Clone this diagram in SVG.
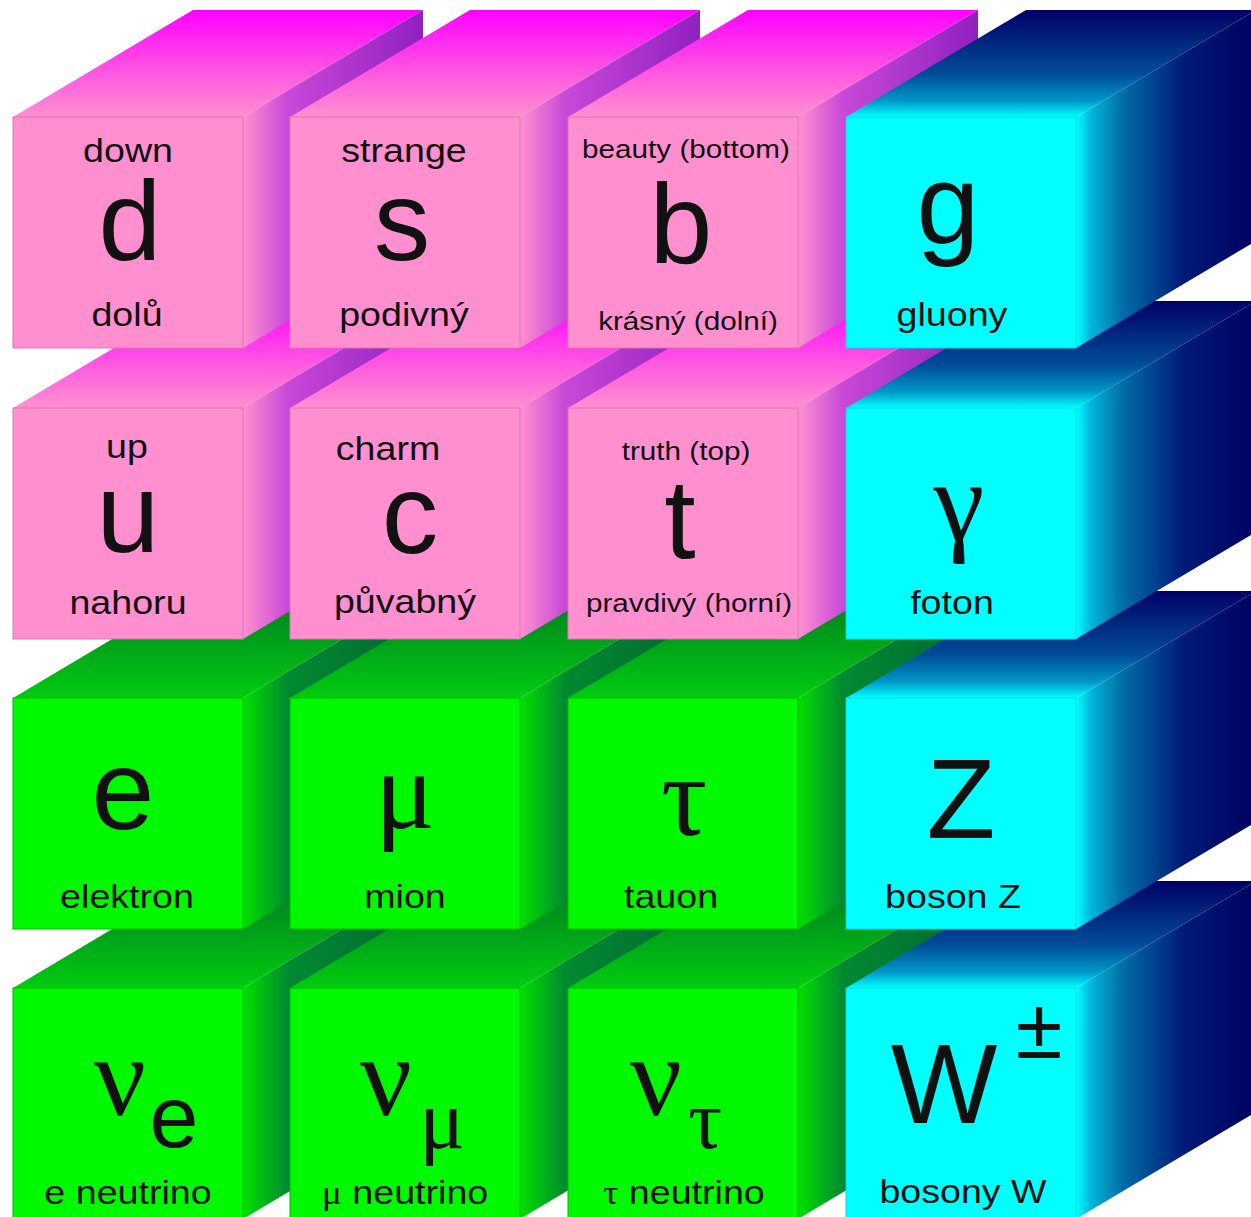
<svg xmlns="http://www.w3.org/2000/svg" xmlns:xlink="http://www.w3.org/1999/xlink" width="1251" height="1217" viewBox="0 0 1251 1217">
<style>
text{fill:#111;text-anchor:middle}
.lbl{font-family:"Liberation Sans",Arial,sans-serif;font-size:33px}
.sml{font-family:"Liberation Sans",Arial,sans-serif;font-size:26.5px}
.big{font-family:"Liberation Sans",Arial,sans-serif;font-size:113px}
.grk{font-family:"Liberation Serif","DejaVu Serif",serif;font-size:115px}
.sub{font-family:"Liberation Serif","DejaVu Serif",serif;font-size:85px}
.subs{font-family:"Liberation Sans",Arial,sans-serif;font-size:88px}
.gs{font-family:"Liberation Serif","DejaVu Serif",serif}
</style>
<defs>
<linearGradient id="pTop" x1="0" y1="0" x2="0" y2="1"><stop offset="0" stop-color="#ff00ff"/><stop offset="0.6" stop-color="#ff5ae0"/><stop offset="1" stop-color="#ff90d0"/></linearGradient>
<linearGradient id="pSide" x1="0" y1="0" x2="1" y2="0"><stop offset="0" stop-color="#ff90d0"/><stop offset="0.25" stop-color="#c848d8"/><stop offset="1" stop-color="#9020c0"/></linearGradient>
<linearGradient id="gTop" x1="0" y1="0" x2="0" y2="1"><stop offset="0" stop-color="#007a22"/><stop offset="1" stop-color="#00cc10"/></linearGradient>
<linearGradient id="gSide" x1="0" y1="0" x2="1" y2="0"><stop offset="0" stop-color="#00e000"/><stop offset="0.25" stop-color="#008a30"/><stop offset="1" stop-color="#006633"/></linearGradient>
<linearGradient id="cTop" x1="0" y1="0" x2="0" y2="1"><stop offset="0" stop-color="#000066"/><stop offset="0.6" stop-color="#004d99"/><stop offset="0.85" stop-color="#0098c8"/><stop offset="1" stop-color="#00ffff"/></linearGradient>
<linearGradient id="cSide" x1="0" y1="0" x2="1" y2="0"><stop offset="0" stop-color="#00ffff"/><stop offset="0.08" stop-color="#00b8dc"/><stop offset="0.25" stop-color="#0070a8"/><stop offset="0.6" stop-color="#001a78"/><stop offset="1" stop-color="#000060"/></linearGradient>
<g id="pink">
<polygon points="0,0 180,-107 410,-107 230,0" fill="url(#pTop)"/>
<polygon points="230,0 410,-107 410,124 230,231" fill="url(#pSide)"/>
<rect x="0" y="0" width="230" height="231" fill="#ff8fcf" stroke="#d778b4" stroke-width="1"/>
</g>
<g id="green">
<polygon points="0,0 180,-107 410,-107 230,0" fill="url(#gTop)"/>
<polygon points="230,0 410,-107 410,124 230,231" fill="url(#gSide)"/>
<rect x="0" y="0" width="230" height="231" fill="#00f800" stroke="#00b800" stroke-width="1"/>
</g>
<g id="cyan">
<polygon points="0,0 180,-107 410,-107 230,0" fill="url(#cTop)"/>
<polygon points="230,0 410,-107 410,124 230,231" fill="url(#cSide)"/>
<rect x="0" y="0" width="230" height="231" fill="#00ffff" stroke="#00d8e8" stroke-width="1"/>
</g>
</defs>
<rect x="0" y="0" width="1251" height="1217" fill="#ffffff"/>

<!-- row 4 -->
<g id="nu-e">
<use xlink:href="#green" href="#green" transform="translate(13,988)"/>
<text class="grk" x="120" y="1115">ν</text>
<text class="subs" x="174" y="1147">e</text>
<text class="lbl" transform="translate(128,1204) scale(1.14,1)">e neutrino</text>
</g>
<g id="nu-mu">
<use xlink:href="#green" href="#green" transform="translate(290,988)"/>
<text class="grk" x="386" y="1115">ν</text>
<text class="sub" x="442" y="1148">μ</text>
<text class="lbl" transform="translate(405,1204) scale(1.14,1)"><tspan class="gs">μ</tspan> neutrino</text>
</g>
<g id="nu-tau">
<use xlink:href="#green" href="#green" transform="translate(568,988)"/>
<text class="grk" x="656" y="1115">ν</text>
<text class="sub" x="705" y="1148">τ</text>
<text class="lbl" transform="translate(684,1204) scale(1.14,1)"><tspan class="gs">τ</tspan> neutrino</text>
</g>
<g id="W">
<use xlink:href="#cyan" href="#cyan" transform="translate(846,988)"/>
<text class="big" x="944" y="1123">W</text>
<text class="subs" x="1039" y="1058" style="font-size:85px">±</text>
<text class="lbl" transform="translate(963,1203) scale(1.14,1)">bosony W</text>
</g>

<!-- row 3 -->
<g id="e">
<use xlink:href="#green" href="#green" transform="translate(13,698)"/>
<text class="big" x="123" y="829">e</text>
<text class="lbl" transform="translate(127,908) scale(1.14,1)">elektron</text>
</g>
<g id="mu">
<use xlink:href="#green" href="#green" transform="translate(290,698)"/>
<text class="grk" x="405" y="828" style="font-size:112px">μ</text>
<text class="lbl" transform="translate(405,908) scale(1.14,1)">mion</text>
</g>
<g id="tau">
<use xlink:href="#green" href="#green" transform="translate(568,698)"/>
<text class="grk" x="684" y="835">τ</text>
<text class="lbl" transform="translate(671,908) scale(1.14,1)">tauon</text>
</g>
<g id="Z">
<use xlink:href="#cyan" href="#cyan" transform="translate(846,698)"/>
<text class="big" x="961" y="838">Z</text>
<text class="lbl" transform="translate(953,908) scale(1.14,1)">boson Z</text>
</g>

<!-- row 2 -->
<g id="u">
<use xlink:href="#pink" href="#pink" transform="translate(13,408)"/>
<text class="lbl" transform="translate(127,458) scale(1.14,1)">up</text>
<text class="big" x="128" y="552">u</text>
<text class="lbl" transform="translate(128,614) scale(1.14,1)">nahoru</text>
</g>
<g id="c">
<use xlink:href="#pink" href="#pink" transform="translate(290,408)"/>
<text class="lbl" transform="translate(388,460) scale(1.14,1)">charm</text>
<text class="big" x="410" y="553">c</text>
<text class="lbl" transform="translate(405,613) scale(1.14,1)">půvabný</text>
</g>
<g id="t">
<use xlink:href="#pink" href="#pink" transform="translate(568,408)"/>
<text class="sml" transform="translate(686,460) scale(1.12,1)">truth (top)</text>
<text class="big" x="680" y="558">t</text>
<text class="sml" transform="translate(689,612) scale(1.12,1)">pravdivý (horní)</text>
</g>
<g id="gamma">
<use xlink:href="#cyan" href="#cyan" transform="translate(846,408)"/>
<text class="grk" x="959" y="540">γ</text>
<text class="lbl" transform="translate(952,614) scale(1.14,1)">foton</text>
</g>

<!-- row 1 -->
<g id="d">
<use xlink:href="#pink" href="#pink" transform="translate(13,117)"/>
<text class="lbl" transform="translate(128,162) scale(1.14,1)">down</text>
<text class="big" x="130" y="260">d</text>
<text class="lbl" transform="translate(127,326) scale(1.14,1)">dolů</text>
</g>
<g id="s">
<use xlink:href="#pink" href="#pink" transform="translate(290,117)"/>
<text class="lbl" transform="translate(404,162) scale(1.14,1)">strange</text>
<text class="big" x="402" y="260">s</text>
<text class="lbl" transform="translate(404,326) scale(1.14,1)">podivný</text>
</g>
<g id="b">
<use xlink:href="#pink" href="#pink" transform="translate(568,117)"/>
<text class="sml" transform="translate(686,158) scale(1.12,1)">beauty (bottom)</text>
<text class="big" x="681" y="263">b</text>
<text class="sml" transform="translate(688,330) scale(1.12,1)">krásný (dolní)</text>
</g>
<g id="g">
<use xlink:href="#cyan" href="#cyan" transform="translate(846,117)"/>
<text class="big" x="948" y="243">g</text>
<text class="lbl" transform="translate(952,326) scale(1.14,1)">gluony</text>
</g>
<g id="connectors"/>
</svg>
